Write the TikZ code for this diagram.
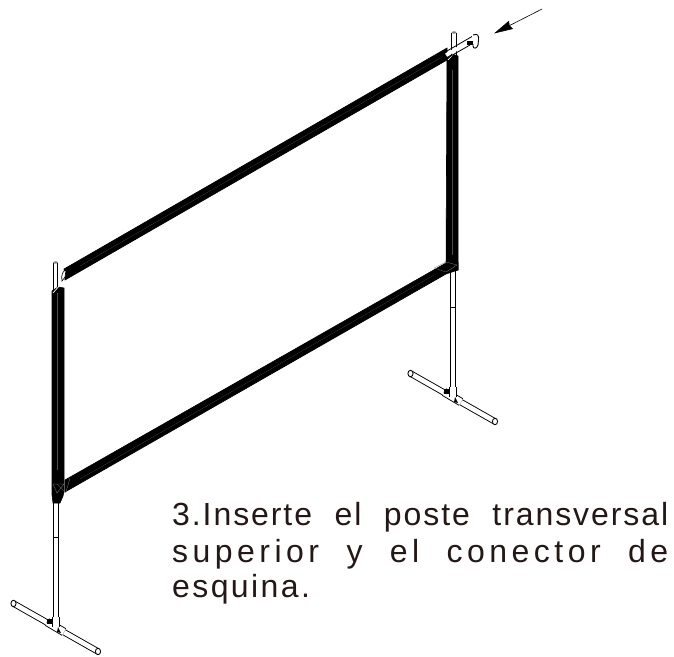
\documentclass[tikz,border=0pt]{standalone}
\usepackage{fontspec}
\usepackage{tikz}
\usetikzlibrary{arrows.meta}
\setmainfont{Liberation Sans}
\definecolor{inkText}{HTML}{231815}
\newfontface\looseText[LetterSpace=6]{Liberation Sans}
\newfontface\wideText[LetterSpace=14]{Liberation Sans}
\newfontface\plainText[LetterSpace=7.5]{Liberation Sans}

\begin{document}
\begin{tikzpicture}[x=1pt,y=-1pt]
	\tikzstyle{beam} = [fill=black, draw=black, line width=0.6pt]
	\tikzstyle{seam} = [draw=gray, line width=0.3pt]
	\tikzstyle{faint} = [draw=black!70, line width=0.2pt]
	\tikzstyle{pipe} = [draw=black, line width=0.9pt, double=white, double distance=3.4pt]
	\tikzstyle{footpipe} = [draw=black, line width=0.9pt, double=white, double distance=4.6pt]
	\tikzstyle{sleeve} = [draw=black, line width=0.9pt, double=white, double distance=6.6pt]
	\tikzstyle{arrow} = [line width=0.6pt,-{Stealth[length=19pt,width=9pt,inset=1.5pt]}]
	\tikzstyle{caption} = [anchor=base west, inner sep=0pt, text=inkText, font=\fontsize{32}{32}\selectfont]
	\useasboundingbox (0,0) rectangle (674,656);
	% stands
	\foreach \ox/\oy in {0/0, 397/-230} {
		\begin{scope}[shift={(\ox,\oy)}]
			\draw [pipe] (56,500) -- (56,620);
			\draw [line width=1pt] (53.5,537) -- (58.5,537);
			\draw [footpipe] (13.5,603.5) -- (98,651.5);
			\draw [fill=white, line width=0.9pt] (13.5,603.5) ellipse (2.6 and 3.2);
			\draw [fill=white, line width=0.9pt] (98,651.5) ellipse (2.6 and 3.2);
			\draw [sleeve] (47,622) -- (64,632);
			\draw [sleeve] (56,617) -- (56,627);
			\fill (47,619) rectangle (53,624);
			\fill (58,627) -- (61,633) -- (57,632) -- cycle;
		\end{scope}
	}
	% upper pipes
	\draw [pipe] (55.5,263) -- (55.5,292);
	\draw [pipe] (454,33) -- (454,58);
	\fill [gray] (55.5,262.5) ellipse (2.4 and 1.2);
	\fill [gray] (454,32.5) ellipse (2.4 and 1.2);
	% frame
	\draw [beam] (64,269) -- (447,48) -- (447,60) -- (65,280) -- cycle;
	\draw [beam] (65,480) -- (446,263) -- (458,262) -- (458,270) -- (446,274) -- (65,492) -- cycle;
	\draw [beam] (447,58) -- (452,54) -- (458,56) -- (458,270) -- (446,270) -- cycle;
	\draw [beam] (52,291) -- (58,287) -- (64,288) -- (64,492) -- (63,496) -- (60,503) -- (53,503) -- (52,495) -- cycle;
	% frame details
	\draw [fill=white, line width=0.6pt] (62,281) .. controls (61,274) and (63,271) .. (66,270) -- (65,277) -- cycle;
	\draw [faint] (57,293) -- (57,470);
	\draw [faint] (452,70) -- (452,255);
	\draw [faint] (80,266) -- (440,58);
	\draw [faint] (80,479) -- (434,275);
	\draw [seam] (53,484) -- (64,484) -- (57,493) -- (53,484);
	\draw [seam] (57,484) -- (66,493);
	\draw [seam] (434,268) -- (446,262) -- (457,265) -- (446,272) -- cycle;
	\draw [seam] (70,478) -- (66,492);
	\draw [white, line width=0.7pt] (53,293) -- (60,285);
	\draw [white, line width=0.7pt] (448,60) -- (457,50);
	% corner connector
	\draw [white, line width=3.4pt] (446,55) -- (471,41);
	\draw [line width=0.8pt] (447,51) -- (472,36.5) (449,57) -- (470,45);
	\draw [line width=0.9pt, fill=white] (473,35) .. controls (478,33) and (479,36) .. (478.5,40) -- (478,45) .. controls (477,49) and (473,49) .. (473,46) -- (473,44);
	\fill (467,41) rectangle (473,45);
	% pointer
	\coordinate (pointerStart) at (542,9);
	\coordinate (pointerEnd) at (494,33.5);
	\draw [arrow] (pointerStart) -- (pointerEnd);
	% caption
	\node (lineOne) [caption] at (172,525) {\makebox[496pt][s]{\looseText 3.Inserte el poste transversal}};
	\node (lineTwo) [caption] at (172,562) {\makebox[496pt][s]{\wideText superior y el conector de}};
	\node (lineThree) [caption] at (172,597) {\plainText esquina.};
\end{tikzpicture}
\end{document}
